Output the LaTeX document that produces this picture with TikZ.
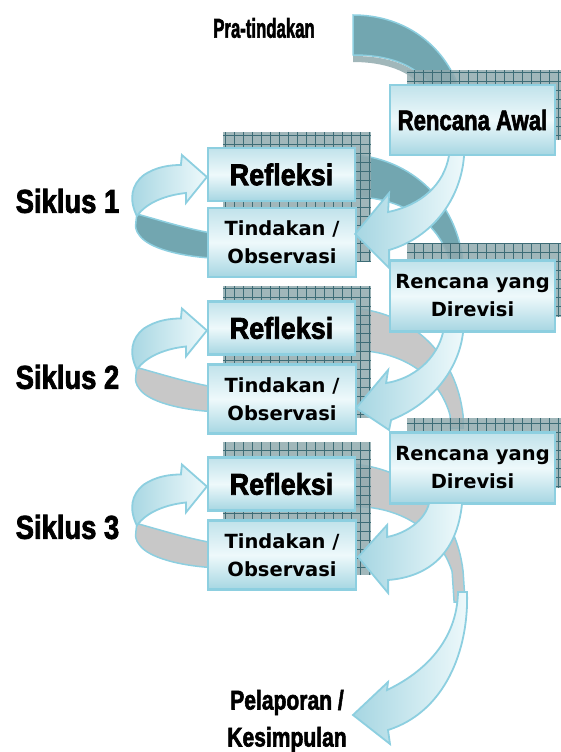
\documentclass[tikz,border=0pt]{standalone}
\usepackage{graphicx}
\usepackage{fontspec}
\setmainfont{Liberation Sans}
\newfontfamily\boxfont{DejaVu Sans}
\newfontfamily\heavyfont{Liberation Sans}[UprightFont={* Bold}, FakeBold=2.5]
\usepackage{tikz}
\usetikzlibrary{calc,backgrounds}

\definecolor{rim}{HTML}{8DCFE0}
\definecolor{pale}{HTML}{EEF9FB}
\definecolor{aqua}{HTML}{A6D6E2}
\definecolor{tealband}{HTML}{72A6B0}
\definecolor{bandgrey}{HTML}{C8C8C8}
\definecolor{gridfill}{HTML}{91AAAE}
\definecolor{gridline}{HTML}{3D6C76}

\begin{document}
\begin{tikzpicture}[
    x=1pt, y=-1pt,
    box/.style = {draw=rim, line width=2.2pt, top color=aqua!70, bottom color=aqua, middle color=pale, inner sep=0pt},
    refbox/.style = {box, minimum width=147pt, minimum height=53pt, font=\heavyfont\fontsize{30}{32}\selectfont},
    tinbox/.style = {box, minimum width=148pt, minimum height=69pt, align=center, font=\boxfont\fontsize{19.5}{28}\selectfont\bfseries},
    rdbox/.style = {box, minimum width=165pt, minimum height=71pt, align=center, font=\boxfont\fontsize{19.5}{28}\selectfont\bfseries},
    title/.style = {inner sep=0pt, align=center, font=\heavyfont\fontsize{27}{37}\selectfont},
    siklus/.style = {inner sep=0pt, font=\heavyfont\fontsize{33}{36}\selectfont},
    band/.style = {draw=rim, line width=1.5pt, fill=tealband},
    greyband/.style = {draw=rim, line width=1.5pt, fill=bandgrey},
    gridbox/.style = {fill=gridfill, fill opacity=.85},
    gridlines/.style = {draw=gridline, line width=.5pt, step=9pt},
    lightarrow/.style = {draw=rim, line width=1.8pt, left color=aqua, right color=pale}
  ]
  \useasboundingbox (0,0) rectangle (560,752);

  % kotak
  \node[box, minimum width=165pt, minimum height=70pt, font=\heavyfont\fontsize{28}{30}\selectfont] (ra) at (472.5,120) {\scalebox{0.79}[1]{Rencana Awal}};
  \node[refbox] (ref1) at (281.5,174.5) {\scalebox{0.9}[1]{Refleksi}};
  \node[tinbox] (tin1) at (282,242.5) {Tindakan /\\Observasi};
  \node[rdbox] (rd1) at (472.5,296) {Rencana yang\\Direvisi};
  \node[refbox] (ref2) at (281.5,328) {\scalebox{0.9}[1]{Refleksi}};
  \node[tinbox] (tin2) at (282,399) {Tindakan /\\Observasi};
  \node[rdbox] (rd2) at (472.5,468) {Rencana yang\\Direvisi};
  \node[refbox] (ref3) at (281.5,484) {\scalebox{0.9}[1]{Refleksi}};
  \node[tinbox] (tin3) at (282,555) {Tindakan /\\Observasi};

  % teks
  \node[title] (pra) at (264,28) {\scalebox{0.62}[1]{Pra-tindakan}};
  \node[siklus] (s1) at (67.5,201) {\scalebox{0.83}[1]{Siklus 1}};
  \node[siklus] (s2) at (67.5,377) {\scalebox{0.83}[1]{Siklus 2}};
  \node[siklus] (s3) at (67.5,527) {\scalebox{0.83}[1]{Siklus 3}};
  \node[title] (pel) at (287,721) {\scalebox{0.78}[1]{Pelaporan /}\\\scalebox{0.78}[1]{Kesimpulan}};

  \begin{scope}[on background layer]
    % panah pra-tindakan
    \draw[band] (353,15) .. controls (400,15) and (440,40) .. (458,85) -- (458,95) -- (430,95) -- (430,85) .. controls (415,65) and (390,55) .. (353,55) -- cycle;
    \fill[gridbox] (353,56) .. controls (390,56) and (415,66) .. (430,86) -- (424,89) .. controls (410,71) and (385,62) .. (353,62) -- cycle;

    % sisi belakang
    \begin{scope}[shift={(ref1.east)}]
      \draw[band] (0,-19.5) .. controls (55,-14.5) and (100,25.5) .. (107,87.5) -- (107,100) -- (94,100) -- (94,87.5) .. controls (84,50.5) and (50,23.5) .. (0,22.5) -- cycle;
    \end{scope}
    \begin{scope}[shift={(ref2.east)}]
      \draw[greyband] (0,-19.5) .. controls (55,-14.5) and (100,25.5) .. (107,87.5) -- (107,100) -- (94,100) -- (94,87.5) .. controls (84,50.5) and (50,23.5) .. (0,22.5) -- cycle;
    \end{scope}
    \begin{scope}[shift={(ref3.east)}]
      \draw[greyband] (0,-19.5) .. controls (55,-14.5) and (100,25.5) .. (107,87.5) -- (109,118) -- (98,118) -- (96,87.5) .. controls (84,50.5) and (50,23.5) .. (0,22.5) -- cycle;
    \end{scope}

    % bayangan
    \fill[gridbox] (407,70) rectangle (572,140);
    \draw[gridlines] (407,140) grid (572,70);
    \fill[gridbox] (407,243) rectangle (572,317);
    \draw[gridlines] (407,317) grid (572,243);
    \fill[gridbox] (407,418) rectangle (572,488);
    \draw[gridlines] (407,488) grid (572,418);
    \fill[gridbox] (223,132) rectangle (371,262);
    \draw[gridlines] (223,262) grid (371,132);
    \fill[gridbox] (223,286) rectangle (371,418);
    \draw[gridlines] (223,418) grid (371,286);
    \fill[gridbox] (223,442) rectangle (371,575);
    \draw[gridlines] (223,575) grid (371,442);

    % putaran kiri
    \begin{scope}[shift={(ref1.west)}]
      \draw[band] (-70,39.5) .. controls (-48,45.5) and (-23,53.5) .. (4,58.5) -- (4,83.5) .. controls (-28,81.5) and (-58,73.5) .. (-67,61.5) .. controls (-72,54.5) .. (-70,39.5) -- cycle;
      \draw[lightarrow] (-26,-9.5) -- (-25,-19.5) -- (0,2.5) -- (-21,28.5) -- (-21,18.5) .. controls (-40,20.5) and (-60,27.5) .. (-70,41.5) .. controls (-78,25.5) and (-76,10.5) .. (-63,0.5) .. controls (-51,-7.5) and (-38,-9.5) .. (-26,-9.5) -- cycle;
    \end{scope}
    \begin{scope}[shift={(ref2.west)}]
      \draw[greyband] (-70,39.5) .. controls (-48,45.5) and (-23,53.5) .. (4,58.5) -- (4,83.5) .. controls (-28,81.5) and (-58,73.5) .. (-67,61.5) .. controls (-72,54.5) .. (-70,39.5) -- cycle;
      \draw[lightarrow] (-26,-9.5) -- (-25,-19.5) -- (0,2.5) -- (-21,28.5) -- (-21,18.5) .. controls (-40,20.5) and (-60,27.5) .. (-70,41.5) .. controls (-78,25.5) and (-76,10.5) .. (-63,0.5) .. controls (-51,-7.5) and (-38,-9.5) .. (-26,-9.5) -- cycle;
    \end{scope}
    \begin{scope}[shift={(ref3.west)}]
      \draw[greyband] (-70,39.5) .. controls (-48,45.5) and (-23,53.5) .. (4,58.5) -- (4,83.5) .. controls (-28,81.5) and (-58,73.5) .. (-67,61.5) .. controls (-72,54.5) .. (-70,39.5) -- cycle;
      \draw[lightarrow] (-26,-9.5) -- (-25,-19.5) -- (0,2.5) -- (-21,28.5) -- (-21,18.5) .. controls (-40,20.5) and (-60,27.5) .. (-70,41.5) .. controls (-78,25.5) and (-76,10.5) .. (-63,0.5) .. controls (-51,-7.5) and (-38,-9.5) .. (-26,-9.5) -- cycle;
    \end{scope}
  \end{scope}

  % panah depan
  \begin{scope}[shift={(tin1.east)}]
    \draw[lightarrow] (-2,-8.5) -- (32,-49.5) -- (31,-30.5) .. controls (64,-37.5) and (87,-57.5) .. (92,-87.5) -- (107,-87.5) .. controls (104,-42.5) and (74,-4.5) .. (32,7.5) -- (32,25.5) -- cycle;
  \end{scope}
  \begin{scope}[shift={(tin2.east)}]
    \draw[lightarrow] (-1,9) -- (31,-29) -- (29,-16) .. controls (56,-20) and (80,-40) .. (86,-67) -- (106,-67) .. controls (102,-30) and (75,5) .. (34,21) -- (32,31) -- cycle;
  \end{scope}
  \begin{scope}[shift={(tin3.east)}]
    \draw[lightarrow] (1,2) -- (30,-30) -- (30,-18) .. controls (50,-22) and (68,-35) .. (72,-52) -- (105,-52) .. controls (100,0) and (70,22) .. (31,25) -- (31,38) -- cycle;
  \end{scope}
  \draw[lightarrow] (353,715) -- (388,682) -- (387,690) .. controls (425,672) and (457,640) .. (458,592) -- (467,592) .. controls (469,650) and (445,712) .. (388,730) -- (390,744) -- cycle;
\end{tikzpicture}
\end{document}
